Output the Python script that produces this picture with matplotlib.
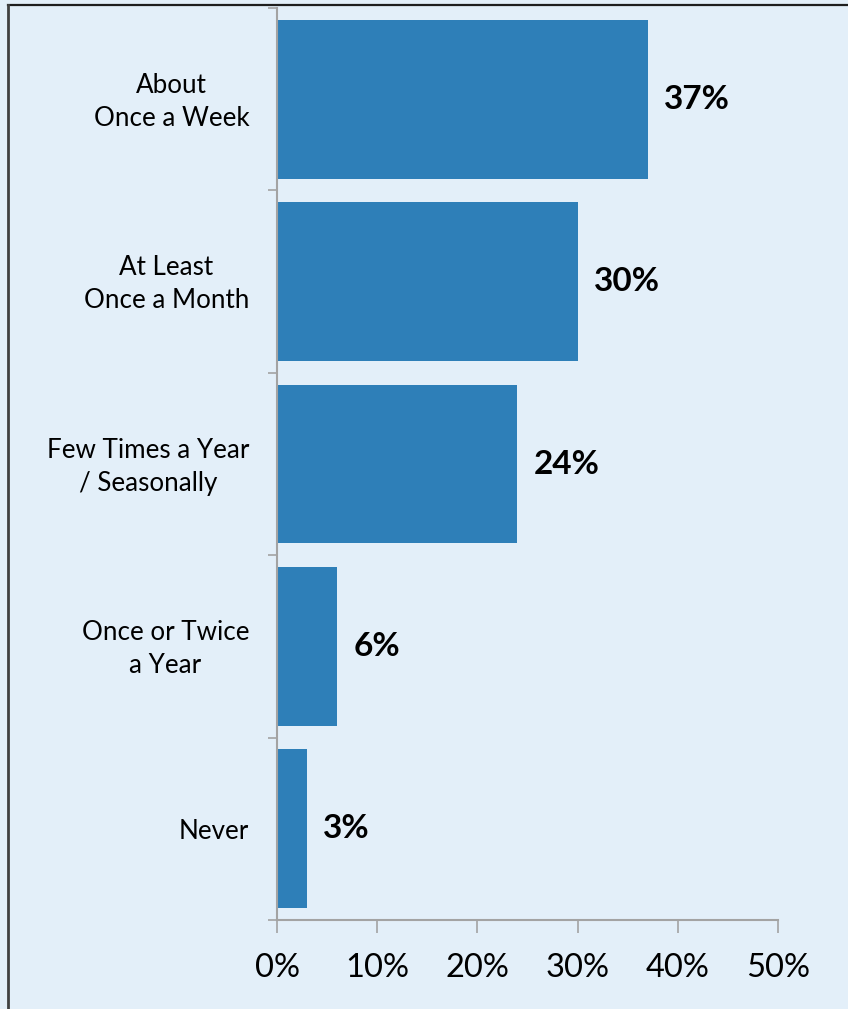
import matplotlib
matplotlib.use("Agg")
import matplotlib.pyplot as plt
from matplotlib.lines import Line2D
from matplotlib.ticker import FixedLocator, PercentFormatter
from matplotlib.transforms import ScaledTranslation

categories = [
    "About\nOnce a Week",
    "At Least\nOnce a Month",
    "Few Times a Year\n/ Seasonally",
    "Once or Twice\na Year",
    "Never",
]
shares = [37, 30, 24, 6, 3]
x_ticks = [0, 10, 20, 30, 40, 50]

BG = "#E3EFF9"
BAR = "#2E7FB8"
AXIS = "#A3A3A3"
FONT = "Lato"

plt.rcParams["font.family"] = [FONT, "DejaVu Sans"]

fig = plt.figure(figsize=(8.48, 10.09), dpi=100, facecolor=BG)
ax = fig.add_axes([277 / 848, 1 - 920 / 1009, (778 - 277) / 848, (920 - 8) / 1009])
ax.set_facecolor(BG)

pos = list(range(len(categories)))
ax.barh(pos, shares, height=0.87, color=BAR, zorder=2)

for p, v in zip(pos, shares):
    ax.text(v + 1.6, p, f"{v}%", va="center", ha="left",
            fontsize=24, fontweight="bold", color="black")

ax.set_xlim(0, 50)
ax.set_ylim(len(categories) - 0.5, -0.5)

ax.set_xticks(x_ticks)
ax.xaxis.set_major_formatter(PercentFormatter(decimals=0))
ax.tick_params(axis="x", direction="out", length=9, width=1.2, color=AXIS,
               labelsize=23.5, pad=15, labelcolor="black")

ax.set_yticks(pos)
ax.set_yticklabels(categories, multialignment="center", linespacing=1.42)
ax.tick_params(axis="y", which="major", length=0, pad=20, labelsize=18.7,
               labelcolor="black")
ax.yaxis.set_minor_locator(FixedLocator([i - 0.5 for i in range(len(categories) + 1)]))
ax.tick_params(axis="y", which="minor", direction="out", length=6.5, width=1.2,
               color=AXIS)

# Two-line labels sit a touch high so they centre on their bars
lift = ScaledTranslation(0, 4 / 100, fig.dpi_scale_trans)
for lbl in ax.get_yticklabels():
    if "\n" in lbl.get_text():
        lbl.set_transform(lbl.get_transform() + lift)

for side in ("top", "right"):
    ax.spines[side].set_visible(False)
for side in ("left", "bottom"):
    ax.spines[side].set_color(AXIS)
    ax.spines[side].set_linewidth(1.5)

# Frame lines along the top and left edges of the figure
fig.add_artist(Line2D([7.5 / 848, 1], [1 - 4.5 / 1009, 1 - 4.5 / 1009],
                      transform=fig.transFigure, color="#1E1E1E", lw=1.6))
fig.add_artist(Line2D([7.5 / 848, 7.5 / 848], [0, 1 - 4.5 / 1009],
                      transform=fig.transFigure, color="#404040", lw=2.0))

fig.savefig("out.png", dpi=100, facecolor=BG)
